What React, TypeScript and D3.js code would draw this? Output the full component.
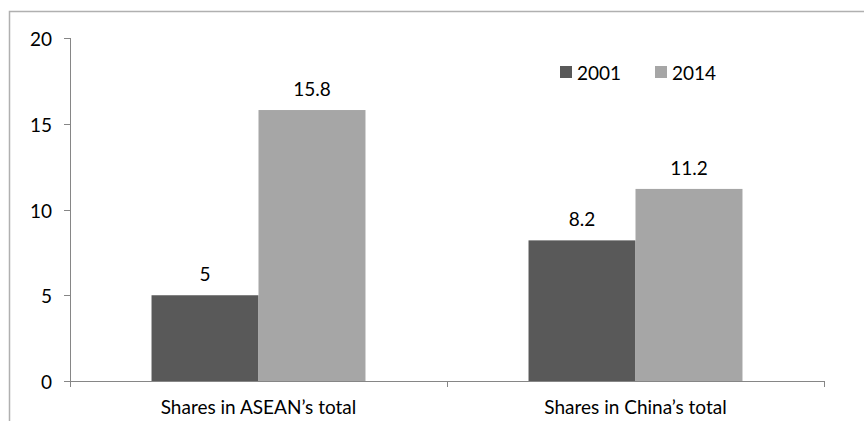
import { useMemo } from "react";
import * as d3 from "d3";

const categories = ["Shares in ASEAN\u2019s total", "Shares in China\u2019s total"];
const seriesNames = ["2001", "2014"];
const values2001 = [5, 8.2];
const values2014 = [15.8, 11.2];
const yTickValues = [0, 5, 10, 15, 20];

const colors = ["#595959", "#a6a6a6"];
const font = "Lato, 'Open Sans', sans-serif";
const fontSize = 19;

export default function App() {
    const width = 864;
    const height = 421;

    const left = 70;
    const right = 824;
    const top = 38;
    const bottom = 381;

    const xScale = useMemo(
        () => d3.scaleBand<string>().domain(categories).range([left, right]).padding(0),
        []
    );
    const innerScale = useMemo(
        () => d3.scaleBand<string>().domain(seriesNames).range([0, xScale.bandwidth()]).paddingInner(0).paddingOuter(0.762),
        [xScale]
    );
    const yScale = useMemo(() => d3.scaleLinear().domain([0, 20]).range([bottom, top]), []);

    const seriesValues = [values2001, values2014];

    const bars = [];
    categories.forEach((cat, ci) => {
        seriesNames.forEach((s, si) => {
            bars.push({ cat, s, si, value: seriesValues[si][ci] });
        });
    });

    const catEdges = [left, ...categories.map((c) => (xScale(c) ?? 0) + xScale.bandwidth())];

    return (
        <div style={{ position: "absolute", left: 0, top: 0 }}>
            <svg width={width} height={height} style={{ display: "block" }}>
                <rect x={0} y={0} width={width} height={height} fill="white" />
                {/* outer chart frame */}
                <rect x={9.5} y={11.5} width={width + 20} height={height + 20} fill="none" stroke="#b0b0b0" strokeWidth={1.5} />

                {bars.map((b) => {
                    const x = (xScale(b.cat) ?? 0) + (innerScale(b.s) ?? 0);
                    const y = yScale(b.value);
                    return (
                        <g key={`${b.cat}-${b.s}`}>
                            <rect x={x} y={y} width={innerScale.bandwidth()} height={bottom - y} fill={colors[b.si]} />
                            <text
                                x={x + innerScale.bandwidth() / 2}
                                y={y - 14}
                                textAnchor="middle"
                                fontFamily={font}
                                fontSize={fontSize}
                                fill="#000"
                            >
                                {b.value}
                            </text>
                        </g>
                    );
                })}

                {/* y axis */}
                <line x1={left + 0.5} y1={top} x2={left + 0.5} y2={bottom + 6} stroke="#868686" />
                {yTickValues.map((t) => (
                    <g key={`y-${t}`} transform={`translate(0, ${Math.round(yScale(t)) + 0.5})`}>
                        <line x1={left - 6} y1={0} x2={left} y2={0} stroke="#868686" />
                        <text x={52} y={0} textAnchor="end" dominantBaseline="central" fontFamily={font} fontSize={fontSize} fill="#000">
                            {t}
                        </text>
                    </g>
                ))}

                {/* x axis */}
                <line x1={left} y1={bottom + 0.5} x2={right} y2={bottom + 0.5} stroke="#868686" />
                {catEdges.map((e, i) => (
                    <line key={`xt-${i}`} x1={Math.round(e) + 0.5} y1={bottom} x2={Math.round(e) + 0.5} y2={bottom + 6} stroke="#868686" />
                ))}
                {categories.map((c) => (
                    <text
                        key={c}
                        x={(xScale(c) ?? 0) + xScale.bandwidth() / 2}
                        y={406}
                        textAnchor="middle"
                        dominantBaseline="central"
                        fontFamily={font}
                        fontSize={fontSize}
                        fill="#000"
                    >
                        {c}
                    </text>
                ))}

                {/* legend */}
                {seriesNames.map((s, i) => (
                    <g key={`leg-${s}`} transform={`translate(${560 + i * 95}, 66)`}>
                        <rect x={0} y={0} width={12} height={12} fill={colors[i]} />
                        <text x={17} y={6} dominantBaseline="central" fontFamily={font} fontSize={fontSize} fill="#000">
                            {s}
                        </text>
                    </g>
                ))}
            </svg>
        </div>
    );
}
